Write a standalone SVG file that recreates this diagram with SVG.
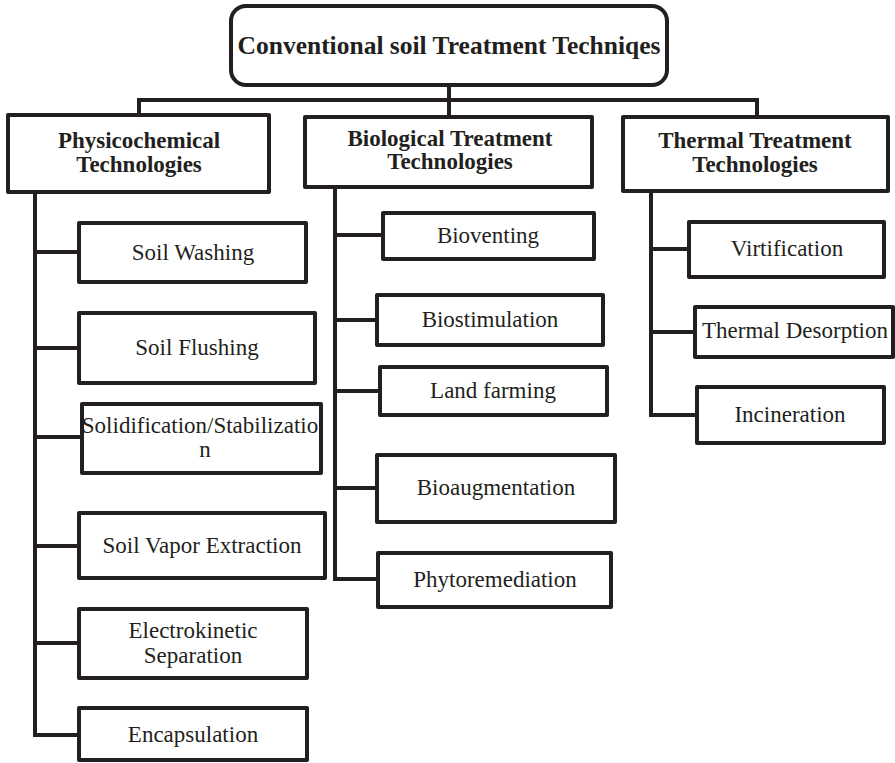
<svg xmlns="http://www.w3.org/2000/svg" width="895" height="763" viewBox="0 0 895 763">
<style>
.box{fill:#fff;stroke:#231f20;stroke-width:4;stroke-linejoin:round}
.ln{fill:none;stroke:#231f20;stroke-width:4;stroke-linejoin:round;stroke-linecap:square}
.t{font-family:"Liberation Serif","Times New Roman",serif;font-size:23px;fill:#231f20;text-anchor:middle}
.h{font-family:"Liberation Serif","Times New Roman",serif;font-size:23px;font-weight:bold;fill:#231f20;text-anchor:middle}
.ti{font-family:"Liberation Serif","Times New Roman",serif;font-size:25.5px;font-weight:bold;fill:#231f20;text-anchor:middle}
</style>
<rect width="895" height="763" fill="#fff"/>
<g id="connectors">
<path class="ln" d="M449 85V100M139 100H757M139 100V115M449 100V117M757 100V117"/>
<path class="ln" d="M35 192V735M35 252H79M35 348H79M35 437H82M35 546H79M35 643H79M35 735H79"/>
<path class="ln" d="M335 187V579M335 235H383M335 320H377M335 391H380M335 488H377M335 579H378"/>
<path class="ln" d="M651 191V415M651 249H689M651 332H695M651 415H697"/>
</g>
<g id="root"><rect class="box" x="231" y="6" width="436" height="79" rx="15"/><text class="ti" x="449" y="54">Conventional soil Treatment Techniqes</text></g>
<g id="physico"><rect class="box" x="8" y="115" width="261" height="77"/><text class="h" x="139" y="148">Physicochemical</text><text class="h" x="139" y="172">Technologies</text></g>
<g id="bio"><rect class="box" x="305" y="117" width="287" height="70"/><text class="h" x="450" y="146" font-size="22.5">Biological Treatment</text><text class="h" x="450" y="169" font-size="22.5">Technologies</text></g>
<g id="thermal"><rect class="box" x="623" y="117" width="265" height="74"/><text class="h" x="755" y="148">Thermal Treatment</text><text class="h" x="755" y="172">Technologies</text></g>
<g id="soil-washing"><rect class="box" x="79" y="223" width="227" height="59"/><text class="t" x="193" y="260">Soil Washing</text></g>
<g id="soil-flushing"><rect class="box" x="79" y="313" width="236" height="70"/><text class="t" x="197" y="355">Soil Flushing</text></g>
<g id="solidification"><rect class="box" x="82" y="404" width="239" height="69"/><text class="t" x="200" y="433">Solidification/Stabilizatio</text><text class="t" x="205" y="457">n</text></g>
<g id="soil-vapor"><rect class="box" x="79" y="513" width="246" height="65"/><text class="t" x="202" y="553">Soil Vapor Extraction</text></g>
<g id="electrokinetic"><rect class="box" x="79" y="609" width="228" height="69"/><text class="t" x="193" y="638">Electrokinetic</text><text class="t" x="193" y="663">Separation</text></g>
<g id="encapsulation"><rect class="box" x="79" y="708" width="228" height="52"/><text class="t" x="193" y="742">Encapsulation</text></g>
<g id="bioventing"><rect class="box" x="383" y="213" width="211" height="46"/><text class="t" x="488" y="243">Bioventing</text></g>
<g id="biostimulation"><rect class="box" x="377" y="295" width="226" height="50"/><text class="t" x="490" y="327">Biostimulation</text></g>
<g id="land-farming"><rect class="box" x="380" y="367" width="227" height="48"/><text class="t" x="493" y="398">Land farming</text></g>
<g id="bioaugmentation"><rect class="box" x="377" y="455" width="238" height="67"/><text class="t" x="496" y="495">Bioaugmentation</text></g>
<g id="phytoremediation"><rect class="box" x="378" y="553" width="233" height="54"/><text class="t" x="495" y="587">Phytoremediation</text></g>
<g id="virtification"><rect class="box" x="689" y="222" width="195" height="55"/><text class="t" x="787" y="256">Virtification</text></g>
<g id="thermal-desorption"><rect class="box" x="695" y="307" width="198" height="50"/><text class="t" x="795" y="338">Thermal Desorption</text></g>
<g id="incineration"><rect class="box" x="697" y="387" width="187" height="56"/><text class="t" x="790" y="422">Incineration</text></g>
</svg>
